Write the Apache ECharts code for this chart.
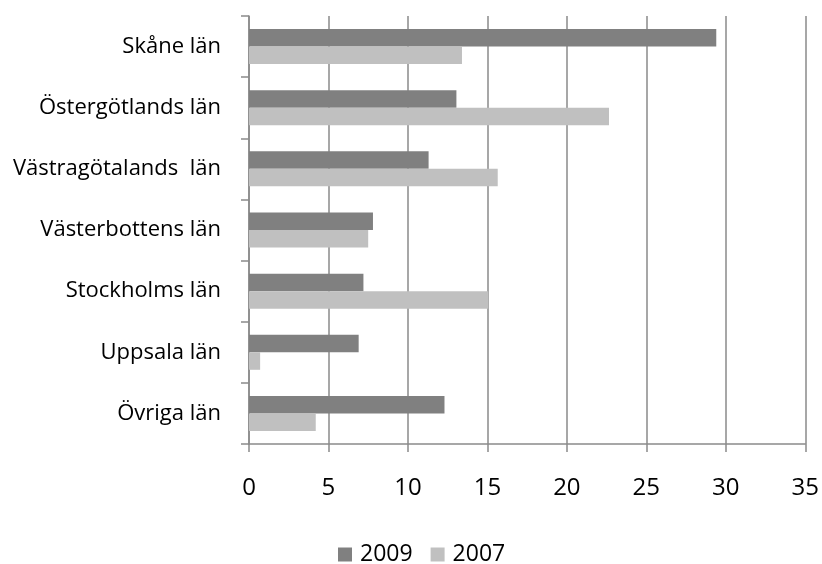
<!DOCTYPE html>
<html>
<head>
<meta charset="utf-8">
<script src="https://cdn.jsdelivr.net/npm/echarts@6/dist/echarts.min.js"></script>
<style>html,body{margin:0;padding:0;background:#fff}#c{width:822px;height:564px}</style>
</head>
<body>
<div id="c"></div>
<script>
const categories = ['Skåne län', 'Östergötlands län', 'Västragötalands  län', 'Västerbottens län', 'Stockholms län', 'Uppsala län', 'Övriga län'];
const seriesNames = ['2009', '2007'];
const values2009 = [29.4, 13.05, 11.3, 7.8, 7.2, 6.9, 12.3];
const values2007 = [13.4, 22.65, 15.65, 7.5, 15.05, 0.7, 4.2];
const xTicks = { min: 0, max: 35, interval: 5 };

const font = '"Open Sans", Lato, sans-serif';
const axisColor = '#8a8a8a';
const chart = echarts.init(document.getElementById('c'));
chart.setOption({
  animation: false,
  grid: { left: 249, right: 13, top: 16, bottom: 120, containLabel: false },
  legend: {
    top: 543, left: 338, itemWidth: 14, itemHeight: 14, itemGap: 18,
    icon: 'rect', padding: 0,
    textStyle: { fontFamily: font, fontSize: 23, color: '#000', padding: [0, 0, 0, 3] },
    data: seriesNames
  },
  xAxis: {
    type: 'value', min: xTicks.min, max: xTicks.max, interval: xTicks.interval,
    axisLine: { show: true, lineStyle: { color: axisColor, width: 1.5 } },
    axisTick: { show: true, length: 8, lineStyle: { color: axisColor, width: 1.5 } },
    splitLine: { show: true, lineStyle: { color: axisColor, width: 1.5 } },
    axisLabel: { fontFamily: font, fontSize: 24, color: '#000', margin: 32 }
  },
  yAxis: {
    type: 'category', data: categories, inverse: true,
    axisLine: { show: true, lineStyle: { color: axisColor, width: 1.5 } },
    axisTick: { show: true, length: 8, lineStyle: { color: axisColor, width: 1.5 } },
    axisLabel: { fontFamily: font, fontSize: 22, color: '#000', margin: 28, padding: [3, 0, 0, 0] }
  },
  series: [
    { name: seriesNames[0], type: 'bar', data: values2009, barWidth: 17.5, barGap: '0%',
      itemStyle: { color: '#808080' } },
    { name: seriesNames[1], type: 'bar', data: values2007, barWidth: 17.5, barGap: '0%',
      itemStyle: { color: '#c0c0c0' } }
  ]
});
</script>
</body>
</html>
